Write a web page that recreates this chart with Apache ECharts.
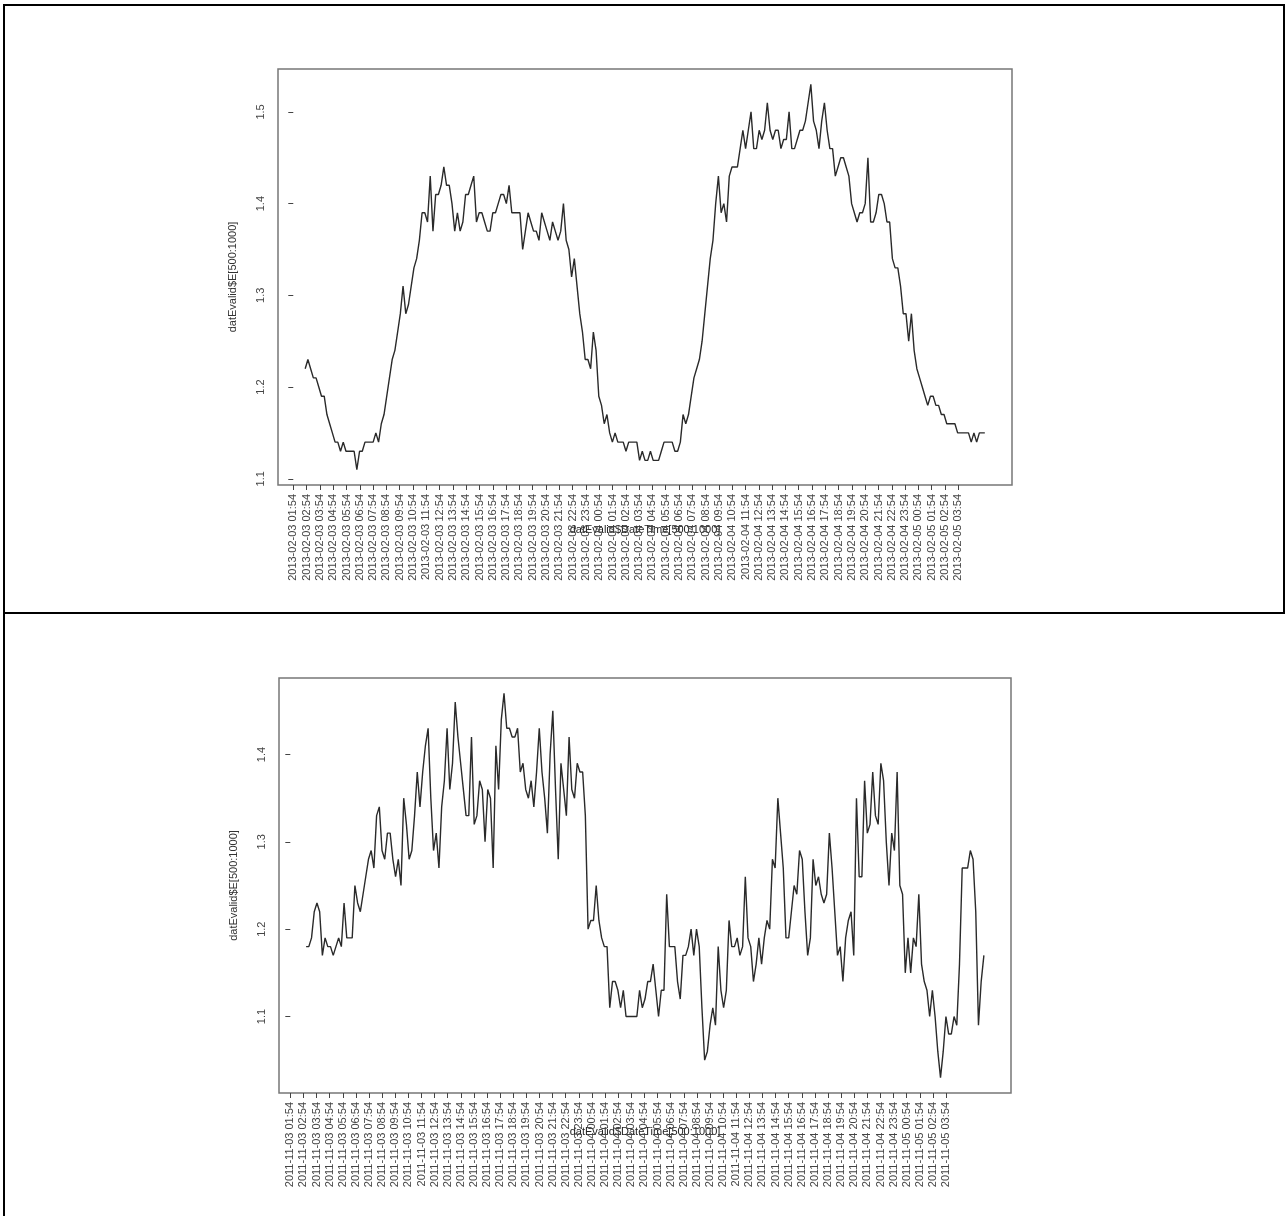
<!DOCTYPE html>
<html><head><meta charset="utf-8">
<script src="https://cdn.jsdelivr.net/npm/echarts@6/dist/echarts.min.js"></script>
<style>html,body{margin:0;padding:0;background:#fff}#c{width:1285px;height:1216px}</style>
</head><body><div id="c"></div>
<script>
// Values read every 2nd observation of datEvalid$E[500:1000]
const topValues = [
1.22,1.23,1.22,1.21,1.21,1.20,1.19,1.19,1.17,1.16,
1.15,1.14,1.14,1.13,1.14,1.13,1.13,1.13,1.13,1.11,
1.13,1.13,1.14,1.14,1.14,1.14,1.15,1.14,1.16,1.17,
1.19,1.21,1.23,1.24,1.26,1.28,1.31,1.28,1.29,1.31,
1.33,1.34,1.36,1.39,1.39,1.38,1.43,1.37,1.41,1.41,
1.42,1.44,1.42,1.42,1.40,1.37,1.39,1.37,1.38,1.41,
1.41,1.42,1.43,1.38,1.39,1.39,1.38,1.37,1.37,1.39,
1.39,1.40,1.41,1.41,1.40,1.42,1.39,1.39,1.39,1.39,
1.35,1.37,1.39,1.38,1.37,1.37,1.36,1.39,1.38,1.37,
1.36,1.38,1.37,1.36,1.37,1.40,1.36,1.35,1.32,1.34,
1.31,1.28,1.26,1.23,1.23,1.22,1.26,1.24,1.19,1.18,
1.16,1.17,1.15,1.14,1.15,1.14,1.14,1.14,1.13,1.14,
1.14,1.14,1.14,1.12,1.13,1.12,1.12,1.13,1.12,1.12,
1.12,1.13,1.14,1.14,1.14,1.14,1.13,1.13,1.14,1.17,
1.16,1.17,1.19,1.21,1.22,1.23,1.25,1.28,1.31,1.34,
1.36,1.40,1.43,1.39,1.40,1.38,1.43,1.44,1.44,1.44,
1.46,1.48,1.46,1.48,1.50,1.46,1.46,1.48,1.47,1.48,
1.51,1.48,1.47,1.48,1.48,1.46,1.47,1.47,1.50,1.46,
1.46,1.47,1.48,1.48,1.49,1.51,1.53,1.49,1.48,1.46,
1.49,1.51,1.48,1.46,1.46,1.43,1.44,1.45,1.45,1.44,
1.43,1.40,1.39,1.38,1.39,1.39,1.40,1.45,1.38,1.38,
1.39,1.41,1.41,1.40,1.38,1.38,1.34,1.33,1.33,1.31,
1.28,1.28,1.25,1.28,1.24,1.22,1.21,1.20,1.19,1.18,
1.19,1.19,1.18,1.18,1.17,1.17,1.16,1.16,1.16,1.16,
1.15,1.15,1.15,1.15,1.15,1.14,1.15,1.14,1.15,1.15,1.15
];
const bottomValues = [
1.18,1.18,1.19,1.22,1.23,1.22,1.17,1.19,1.18,1.18,
1.17,1.18,1.19,1.18,1.23,1.19,1.19,1.19,1.25,1.23,
1.22,1.24,1.26,1.28,1.29,1.27,1.33,1.34,1.29,1.28,
1.31,1.31,1.28,1.26,1.28,1.25,1.35,1.32,1.28,1.29,
1.33,1.38,1.34,1.38,1.41,1.43,1.35,1.29,1.31,1.27,
1.34,1.37,1.43,1.36,1.39,1.46,1.42,1.39,1.36,1.33,
1.33,1.42,1.32,1.33,1.37,1.36,1.30,1.36,1.35,1.27,
1.41,1.36,1.44,1.47,1.43,1.43,1.42,1.42,1.43,1.38,
1.39,1.36,1.35,1.37,1.34,1.38,1.43,1.38,1.35,1.31,
1.40,1.45,1.36,1.28,1.39,1.36,1.33,1.42,1.36,1.35,
1.39,1.38,1.38,1.33,1.20,1.21,1.21,1.25,1.21,1.19,
1.18,1.18,1.11,1.14,1.14,1.13,1.11,1.13,1.10,1.10,
1.10,1.10,1.10,1.13,1.11,1.12,1.14,1.14,1.16,1.13,
1.10,1.13,1.13,1.24,1.18,1.18,1.18,1.14,1.12,1.17,
1.17,1.18,1.20,1.17,1.20,1.18,1.11,1.05,1.06,1.09,
1.11,1.09,1.18,1.13,1.11,1.13,1.21,1.18,1.18,1.19,
1.17,1.18,1.26,1.19,1.18,1.14,1.16,1.19,1.16,1.19,
1.21,1.20,1.28,1.27,1.35,1.31,1.27,1.19,1.19,1.22,
1.25,1.24,1.29,1.28,1.22,1.17,1.19,1.28,1.25,1.26,
1.24,1.23,1.24,1.31,1.27,1.22,1.17,1.18,1.14,1.19,
1.21,1.22,1.17,1.35,1.26,1.26,1.37,1.31,1.32,1.38,
1.33,1.32,1.39,1.37,1.30,1.25,1.31,1.29,1.38,1.25,
1.24,1.15,1.19,1.15,1.19,1.18,1.24,1.16,1.14,1.13,
1.10,1.13,1.10,1.06,1.03,1.06,1.10,1.08,1.08,1.10,
1.09,1.16,1.27,1.27,1.27,1.29,1.28,1.22,1.09,1.14,1.17
];
const topLabels = [
"2013-02-03 01:54","2013-02-03 02:54","2013-02-03 03:54","2013-02-03 04:54","2013-02-03 05:54","2013-02-03 06:54","2013-02-03 07:54","2013-02-03 08:54","2013-02-03 09:54","2013-02-03 10:54","2013-02-03 11:54","2013-02-03 12:54","2013-02-03 13:54","2013-02-03 14:54","2013-02-03 15:54","2013-02-03 16:54","2013-02-03 17:54","2013-02-03 18:54","2013-02-03 19:54","2013-02-03 20:54","2013-02-03 21:54","2013-02-03 22:54","2013-02-03 23:54",
"2013-02-04 00:54","2013-02-04 01:54","2013-02-04 02:54","2013-02-04 03:54","2013-02-04 04:54","2013-02-04 05:54","2013-02-04 06:54","2013-02-04 07:54","2013-02-04 08:54","2013-02-04 09:54","2013-02-04 10:54","2013-02-04 11:54","2013-02-04 12:54","2013-02-04 13:54","2013-02-04 14:54","2013-02-04 15:54","2013-02-04 16:54","2013-02-04 17:54","2013-02-04 18:54","2013-02-04 19:54","2013-02-04 20:54","2013-02-04 21:54","2013-02-04 22:54","2013-02-04 23:54",
"2013-02-05 00:54","2013-02-05 01:54","2013-02-05 02:54","2013-02-05 03:54"
];
const bottomLabels = [
"2011-11-03 01:54","2011-11-03 02:54","2011-11-03 03:54","2011-11-03 04:54","2011-11-03 05:54","2011-11-03 06:54","2011-11-03 07:54","2011-11-03 08:54","2011-11-03 09:54","2011-11-03 10:54","2011-11-03 11:54","2011-11-03 12:54","2011-11-03 13:54","2011-11-03 14:54","2011-11-03 15:54","2011-11-03 16:54","2011-11-03 17:54","2011-11-03 18:54","2011-11-03 19:54","2011-11-03 20:54","2011-11-03 21:54","2011-11-03 22:54","2011-11-03 23:54",
"2011-11-04 00:54","2011-11-04 01:54","2011-11-04 02:54","2011-11-04 03:54","2011-11-04 04:54","2011-11-04 05:54","2011-11-04 06:54","2011-11-04 07:54","2011-11-04 08:54","2011-11-04 09:54","2011-11-04 10:54","2011-11-04 11:54","2011-11-04 12:54","2011-11-04 13:54","2011-11-04 14:54","2011-11-04 15:54","2011-11-04 16:54","2011-11-04 17:54","2011-11-04 18:54","2011-11-04 19:54","2011-11-04 20:54","2011-11-04 21:54","2011-11-04 22:54","2011-11-04 23:54",
"2011-11-05 00:54","2011-11-05 01:54","2011-11-05 02:54","2011-11-05 03:54"
];
const topYTicks = [1.1, 1.2, 1.3, 1.4, 1.5];
const bottomYTicks = [1.1, 1.2, 1.3, 1.4];
// time of first sample (hours after first label) and hours between stored samples
const topTime = { first: 0.895, step: 2 * 0.1022 };
const bottomTime = { first: 1.204, step: 2 * 0.10336 };
const xName = "datEvalid$DateTime[500:1000]";
const yName = "datEvalid$E[500:1000]";

function series(values, t) { return values.map((v, k) => [t.first + k * t.step, v]); }
function rRange(arr) { const lo = Math.min(...arr), hi = Math.max(...arr), p = (hi - lo) * 0.04; return [lo - p, hi + p]; }

const topData = series(topValues, topTime);
const botData = series(bottomValues, bottomTime);
const panels = [
  { data: topData, labels: topLabels, yTicks: topYTicks, nameGap: 39 },
  { data: botData, labels: bottomLabels, yTicks: bottomYTicks, nameGap: 33 }
];
const FONT = "Liberation Sans, Arial, sans-serif";

const chart = echarts.init(document.getElementById('c'), null, { renderer: 'canvas' });
const option = {
  animation: false,
  backgroundColor: '#ffffff',
  grid: [
    { left: 278, top: 69, width: 734, height: 416, show: true, borderColor: '#777', borderWidth: 1.5, backgroundColor: 'transparent' },
    { left: 279, top: 678, width: 732, height: 415, show: true, borderColor: '#777', borderWidth: 1.5, backgroundColor: 'transparent' }
  ],
  xAxis: panels.map((p, i) => {
    const xr = rRange(p.data.map(d => d[0]));
    const ticks = p.labels.map((_, j) => j);
    return {
      gridIndex: i, type: 'value', min: xr[0], max: xr[1],
      axisLine: { show: false }, splitLine: { show: false },
      axisTick: { show: true, customValues: ticks, length: 5, lineStyle: { color: '#444', width: 1 } },
      axisLabel: { customValues: ticks, rotate: 90, margin: 9, fontSize: 11, color: '#444', fontFamily: FONT,
        formatter: v => p.labels[Math.round(v)] },
      name: xName, nameLocation: 'middle', nameGap: p.nameGap, nameMoveOverlap: false,
      nameTextStyle: { fontSize: 11, color: '#222', fontFamily: FONT, verticalAlign: 'top' }
    };
  }),
  yAxis: panels.map((p, i) => {
    const yr = rRange(p.data.map(d => d[1]));
    return {
      gridIndex: i, type: 'value', min: yr[0], max: yr[1],
      axisLine: { show: false }, splitLine: { show: false },
      axisTick: { show: true, customValues: p.yTicks, length: 5, lineStyle: { color: '#444', width: 1 } },
      axisLabel: { customValues: p.yTicks, rotate: 90, margin: 12, fontSize: 11, color: '#444', fontFamily: FONT,
        formatter: v => v.toFixed(1) },
      name: yName, nameLocation: 'middle', nameGap: 40, nameRotate: 90, nameMoveOverlap: false,
      nameTextStyle: { fontSize: 11, color: '#333', fontFamily: FONT }
    };
  }),
  series: panels.map((p, i) => ({
    type: 'line', xAxisIndex: i, yAxisIndex: i, data: p.data,
    showSymbol: false, symbol: 'none',
    lineStyle: { color: '#2a2a2a', width: 1.4 }
  })),
  graphic: [
    { type: 'line', shape: { x1: 3, y1: 5, x2: 1285, y2: 5 }, style: { stroke: '#000', lineWidth: 2 } },
    { type: 'line', shape: { x1: 4, y1: 5, x2: 4, y2: 1216 }, style: { stroke: '#000', lineWidth: 2 } },
    { type: 'line', shape: { x1: 1284, y1: 5, x2: 1284, y2: 613 }, style: { stroke: '#000', lineWidth: 2 } },
    { type: 'line', shape: { x1: 3, y1: 613, x2: 1285, y2: 613 }, style: { stroke: '#000', lineWidth: 2 } }
  ]
};
chart.setOption(option);
</script>
</body></html>
